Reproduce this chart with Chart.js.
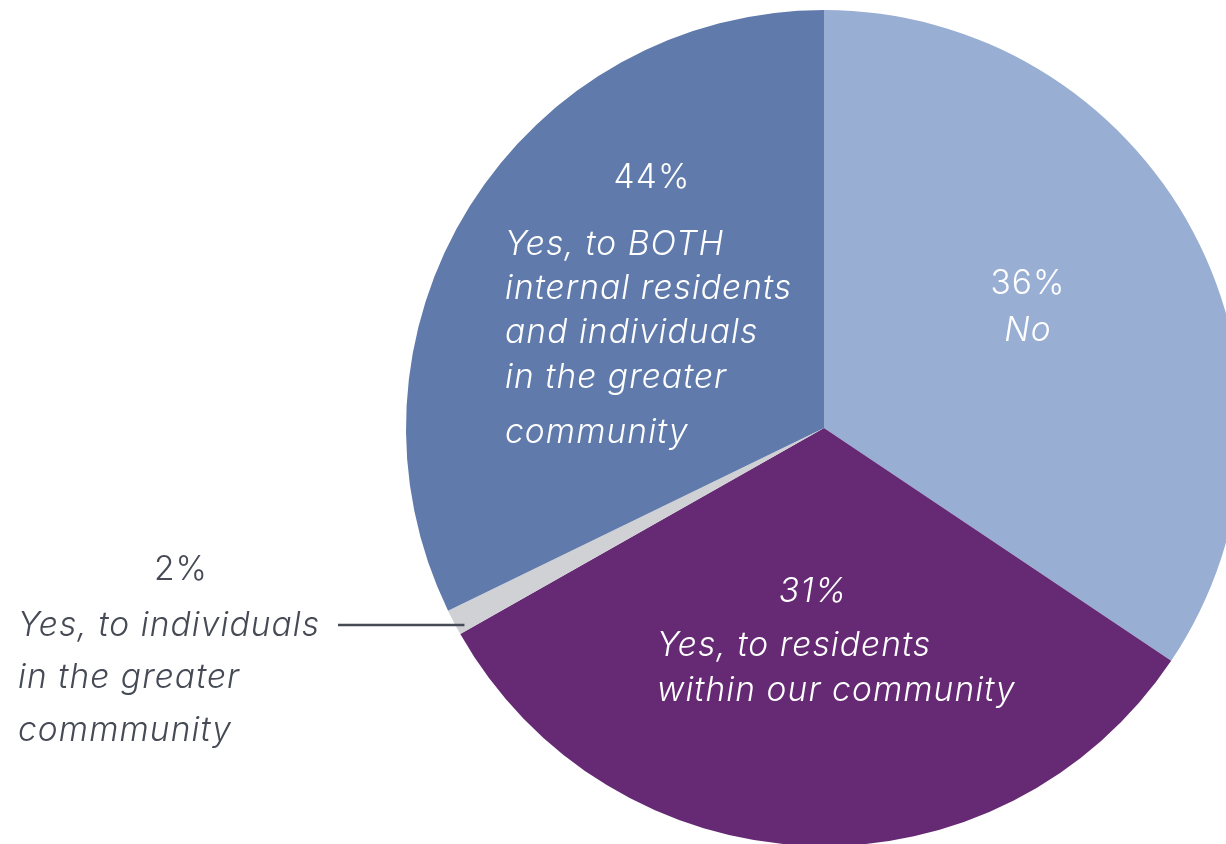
<!DOCTYPE html>
<html><head><meta charset="utf-8">
<script src="https://cdn.jsdelivr.net/npm/chart.js@4/dist/chart.umd.min.js"></script>
<style>
html,body{margin:0;padding:0;background:#fff;overflow:hidden;width:1226px;height:844px}
#wrap{position:absolute;left:0;top:0;width:1648px;height:856px}
</style></head>
<body><div id="wrap"><canvas id="c"></canvas></div>
<script>
const categories = ['No', 'Yes, to residents within our community', 'Yes, to individuals in the greater commmunity', 'Yes, to BOTH internal residents and individuals in the greater community'];
const sliceValues = [34.4, 32.4, 1.0, 32.2];
const percentLabels = ['36%', '31%', '2%', '44%'];
const labelLines = [
  ['No'],
  ['Yes, to residents', 'within our community'],
  ['Yes, to individuals', 'in the greater', 'commmunity'],
  ['Yes, to BOTH', 'internal residents', 'and individuals', 'in the greater', 'community']
];
const sliceColors = ['#99aed3', '#662a74', '#d0d1d5', '#607bab'];

const FONT = 'Inter, "Open Sans", sans-serif';
const SIZE = 33.5;
const SPACING = '1.1px';
// layout of labels relative to pie centre
const labelLayout = [
  {pct: {dx: 204, dy: -144, italic: false, align: 'center'}, lines: {dx: 204, dys: [-97], align: 'center'}, color: '#ffffff'},
  {pct: {dx: -11, dy: 164, italic: true, align: 'center'}, lines: {dx: -167, dys: [218, 263], align: 'left'}, color: '#ffffff'},
  {pct: {dx: -643, dy: 142, italic: false, align: 'center'}, lines: {dx: -806, dys: [198, 250, 303], align: 'left'}, color: '#454a55', leader: {x0: -486, dy: 197}},
  {pct: {dx: -172, dy: -250, italic: false, align: 'center'}, lines: {dx: -319, dys: [-183, -139, -95, -50, 5], align: 'left'}, color: '#ffffff'}
];

const labelPlugin = {
  id: 'sliceLabels',
  afterDatasetsDraw(chart) {
    const ctx = chart.ctx;
    const meta = chart.getDatasetMeta(0);
    meta.data.forEach((arc, i) => {
      const cx = arc.x, cy = arc.y;
      const L = labelLayout[i];
      ctx.save();
      ctx.fillStyle = L.color;
      ctx.textBaseline = 'middle';
      ctx.letterSpacing = SPACING;
      ctx.font = (L.pct.italic ? 'italic ' : '') + '300 ' + SIZE + 'px ' + FONT;
      ctx.textAlign = L.pct.align;
      ctx.fillText(percentLabels[i], cx + L.pct.dx, cy + L.pct.dy);
      ctx.font = 'italic 300 ' + SIZE + 'px ' + FONT;
      ctx.textAlign = L.lines.align;
      labelLines[i].forEach((t, k) => ctx.fillText(t, cx + L.lines.dx, cy + L.lines.dys[k]));
      if (L.leader) {
        const ey = cy + L.leader.dy;
        const dyr = ey - cy;
        const r = arc.outerRadius - 8;
        const ex = cx - Math.sqrt(Math.max(0, r * r - dyr * dyr));
        ctx.strokeStyle = L.color;
        ctx.lineWidth = 2.5;
        ctx.beginPath();
        ctx.moveTo(cx + L.leader.x0, ey);
        ctx.lineTo(ex, ey);
        ctx.stroke();
      }
      ctx.restore();
    });
  }
};

new Chart(document.getElementById('c'), {
  type: 'pie',
  data: {
    labels: categories,
    datasets: [{data: sliceValues, backgroundColor: sliceColors, borderWidth: 0}]
  },
  options: {
    responsive: true,
    maintainAspectRatio: false,
    animation: false,
    layout: {padding: 10},
    plugins: {legend: {display: false}, tooltip: {enabled: false}}
  },
  plugins: [labelPlugin]
});
</script>
</body></html>
